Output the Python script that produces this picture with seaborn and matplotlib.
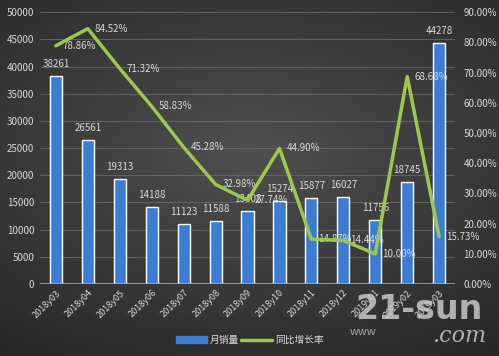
import numpy as np
import pandas as pd
import matplotlib
matplotlib.use("Agg")
import matplotlib.pyplot as plt
import seaborn as sns
from matplotlib.lines import Line2D
from matplotlib.patches import Patch

# 数据
months = ["2018y03", "2018y04", "2018y05", "2018y06", "2018y07", "2018y08", "2018y09",
          "2018y10", "2018y11", "2018y12", "2019y01", "2019y02", "2019y03"]
sales = [38261, 26561, 19313, 14188, 11123, 11588, 13408, 15274, 15877, 16027, 11756, 18745, 44278]
growth = [78.86, 84.52, 71.32, 58.83, 45.28, 32.98, 27.74, 44.90, 14.87, 14.44, 10.00, 68.68, 15.73]

df = pd.DataFrame({"month": months, "sales": sales, "growth": growth})

sns.set_style("dark")
plt.rcParams["font.family"] = ["Noto Sans CJK SC", "DejaVu Sans"]

txt = "#d9d9d9"
bar_c = "#3b7dd2"
line_c = "#9cc84b"

fig = plt.figure(figsize=(4.99, 3.56), dpi=100)

# 背景渐变
bg = fig.add_axes([0, 0, 1, 1], zorder=-10)
yy, xx = np.mgrid[-1:1:200j, -1:1:300j]
r = np.sqrt((xx * 0.9) ** 2 + (yy * 1.1 + 0.15) ** 2)
bg.imshow(-r, cmap=sns.blend_palette(["#262626", "#4f4f4f"], as_cmap=True),
          aspect="auto", extent=[0, 1, 0, 1])
bg.axis("off")

ax = fig.add_axes([0.080, 0.202, 0.832, 0.764])
ax.set_facecolor("none")
sns.barplot(data=df, x="month", y="sales", color=bar_c, width=0.38, saturation=1, ax=ax, zorder=3)
ax.set_ylim(0, 50000)
ax.set_yticks(np.arange(0, 50001, 5000))
ax.set_xlim(-0.5, len(months) - 0.5)
ax.grid(axis="y", color="#6a6a6a", linewidth=0.6, zorder=0)
ax.set_xlabel("")
ax.set_ylabel("")
for s in ax.spines.values():
    s.set_visible(False)
ax.axhline(0, color="#a6a6a6", linewidth=1.2, zorder=4)
ax.tick_params(axis="y", colors=txt, labelsize=7, length=0, pad=4)
ax.tick_params(axis="x", colors=txt, labelsize=6.5, length=0, pad=3)
plt.setp(ax.get_xticklabels(), rotation=45, ha="right", rotation_mode="anchor")

for i, v in enumerate(sales):
    ax.annotate(f"{v}", (i, v), xytext=(0, 5), textcoords="offset points",
                ha="center", va="bottom", color=txt, fontsize=7)

ax2 = ax.twinx()
sns.lineplot(x=np.arange(len(months)), y=df["growth"], color=line_c, linewidth=2.5, ax=ax2, zorder=5)
ax2.set_ylim(0, 90)
ax2.set_yticks(np.arange(0, 91, 10))
ax2.set_yticklabels([f"{t:.2f}%" for t in np.arange(0, 91, 10)])
ax2.set_ylabel("")
ax2.tick_params(axis="y", colors=txt, labelsize=7, length=0, pad=6)
for s in ax2.spines.values():
    s.set_visible(False)
ax2.grid(False)

for i, g in enumerate(growth):
    ax2.annotate(f"{g:.2f}%", (i, g), xytext=(5, 0), textcoords="offset points",
                 ha="left", va="center", color=txt, fontsize=7)

handles = [Patch(color=bar_c), Line2D([0], [0], color=line_c, linewidth=2.5)]
fig.legend(handles, ["月销量", "同比增长率"], loc="center", bbox_to_anchor=(0.5, 0.045),
           ncol=2, frameon=False, fontsize=7, labelcolor=txt, handlelength=3.2,
           handleheight=0.6, columnspacing=0.2, handletextpad=0.3)

# 水印
fig.text(0.84, 0.13, "21-sun", fontsize=24, fontweight="bold", color="#c8c8c8",
         alpha=0.85, ha="center", va="center", family="DejaVu Sans")
fig.text(0.70, 0.06, "www", fontsize=8, style="italic", color="#c8c8c8", alpha=0.8)
fig.text(0.92, 0.055, ".com", fontsize=16, style="italic", color="#c8c8c8", alpha=0.85,
         ha="center", va="center", family="DejaVu Serif")

fig.savefig("out.png", dpi=100)
